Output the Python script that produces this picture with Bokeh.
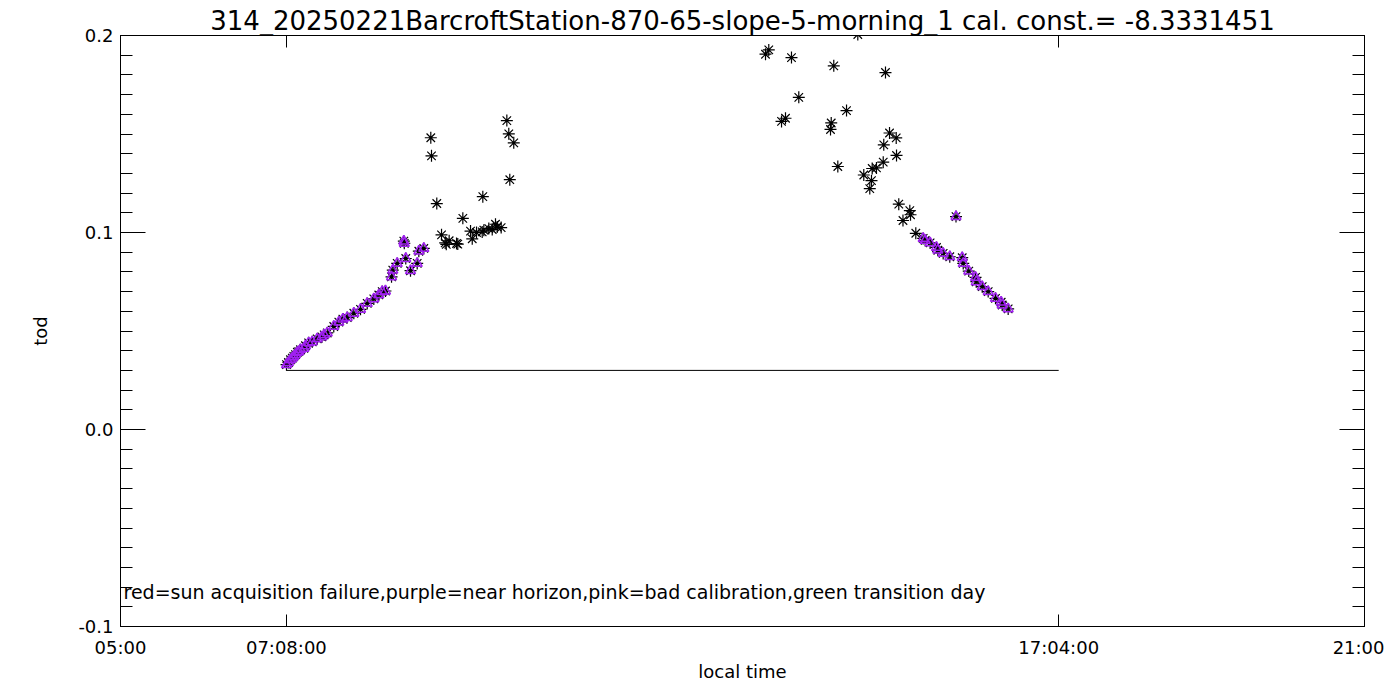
from bokeh.plotting import figure
from bokeh.models import Range1d, LinearAxis, FixedTicker, Label, ColumnDataSource
from bokeh.embed import file_html
from bokeh.resources import INLINE

# ---------------- data ----------------
title_text = "314_20250221BarcroftStation-870-65-slope-5-morning_1 cal. const.= -8.3331451"
note_text = "red=sun acquisition failure,purple=near horizon,pink=bad calibration,green transition day"
x_title = "local time"
y_title = "tod"

x_tick_labels = ["05:00", "07:08:00", "17:04:00", "21:00"]
y_tick_values = [-0.1, 0.0, 0.1, 0.2]
y_tick_labels = ["-0.1", "0.0", "0.1", "0.2"]

# local time (decimal hours) and tod; near_horizon = 1 -> purple
times = [
    7.135, 7.160, 7.186, 7.210, 7.229, 7.251, 7.275, 7.293, 7.315, 7.358,
    7.379, 7.420, 7.466, 7.530, 7.590, 7.620, 7.659, 7.743, 7.808, 7.860,
    7.916, 8.001, 8.087, 8.173, 8.258, 8.322, 8.366, 8.408, 8.486, 8.502,
    8.559, 8.644, 8.650, 8.669, 8.730, 8.816, 8.837, 8.901,
    8.991, 9.000, 9.068, 9.129, 9.176, 9.190, 9.227, 9.322, 9.338, 9.403,
    9.502, 9.524, 9.579, 9.652, 9.660, 9.673, 9.737, 9.781, 9.823, 9.845,
    9.896, 9.969, 9.994, 10.007, 10.058,
    13.296, 13.338, 13.502, 13.553, 13.630, 13.724, 14.132, 14.141, 14.174, 14.226,
    14.338, 14.483, 14.560, 14.637, 14.659, 14.668, 14.723, 14.810, 14.817, 14.839,
    14.891, 14.977, 14.981, 15.010, 15.064, 15.152, 15.161, 15.229,
    15.324, 15.350, 15.413, 15.495, 15.512, 15.581, 15.666, 15.746, 15.826, 15.839,
    15.910, 15.997, 16.006, 16.083, 16.160, 16.254, 16.327, 16.340, 16.417,
]
tods = [
    0.0329, 0.0340, 0.0354, 0.0362, 0.0371, 0.0380, 0.0392, 0.0395, 0.0405, 0.0412,
    0.0425, 0.0440, 0.0445, 0.0460, 0.0470, 0.0480, 0.0490, 0.0523, 0.0545, 0.0560,
    0.0568, 0.0590, 0.0610, 0.0640, 0.0663, 0.0683, 0.0700, 0.0703, 0.0775, 0.0809,
    0.0843, 0.0956, 0.0945, 0.0868, 0.0806, 0.0843, 0.0905, 0.0919,
    0.1481, 0.1389, 0.1147, 0.0988, 0.0947, 0.0940, 0.0958, 0.0944, 0.0941, 0.1072,
    0.1007, 0.0968, 0.1000, 0.1003, 0.1182, 0.1012, 0.1020, 0.1015, 0.1042, 0.1028,
    0.1025, 0.1568, 0.1501, 0.1268, 0.1455,
    0.1905, 0.1927, 0.1564, 0.1580, 0.1888, 0.1686, 0.1523, 0.1556, 0.1846, 0.1335,
    0.1619, 0.2005, 0.1292, 0.1223, 0.1263, 0.1325, 0.1328, 0.1357, 0.1445, 0.1812,
    0.1505, 0.1480, 0.1391, 0.1144, 0.1061, 0.1111, 0.1090, 0.0996,
    0.0970, 0.0960, 0.0947, 0.0924, 0.0910, 0.0894, 0.0877, 0.1081, 0.0872, 0.0843,
    0.0804, 0.0772, 0.0750, 0.0725, 0.0700, 0.0666, 0.0646, 0.0632, 0.0612,
]
near_horizon = [1] * 38 + [0] * 25 + [0] * 28 + [1] * 19

threshold_times = ["07:08:00", "17:04:00"]
threshold_values = [0.03, 0.03]

# ---------------- helpers ----------------
def to_hours(s):
    parts = [int(v) for v in s.split(":")]
    while len(parts) < 3:
        parts.append(0)
    return parts[0] + parts[1] / 60 + parts[2] / 3600

x_tick_values = [to_hours(s) for s in x_tick_labels]
purple = "#A020F0"
font = "DejaVu Sans"

src_all = ColumnDataSource(dict(x=times, y=tods))
src_hz = ColumnDataSource(dict(
    x=[t for t, f in zip(times, near_horizon) if f],
    y=[v for v, f in zip(tods, near_horizon) if f],
))

p = figure(
    width=1384, height=684,
    x_range=Range1d(x_tick_values[0], x_tick_values[-1]),
    y_range=Range1d(-0.1, 0.2),
    output_backend="svg", toolbar_location=None,
    x_axis_location=None, y_axis_location=None,
    min_border_left=120, min_border_right=20,
    min_border_top=35, min_border_bottom=57,
)
p.grid.visible = False
p.outline_line_color = "black"
p.outline_line_width = 1
p.background_fill_color = "white"
p.border_fill_color = "white"

p.title.text = title_text
p.title.align = "center"
p.title.text_font = font
p.title.text_font_size = "26px"
p.title.text_font_style = "normal"
p.title.text_color = "black"
p.title.standoff = 0
p.title.offset = 0

y_minor = [round(-0.1 + 0.01 * i, 3) for i in range(31)]
x_over = {v: l for v, l in zip(x_tick_values, x_tick_labels)}
y_over = {v: l for v, l in zip(y_tick_values, y_tick_labels)}

def style(ax, ticklen, minorlen, labels):
    ax.axis_line_color = "black"
    ax.major_tick_line_color = "black"
    ax.minor_tick_line_color = "black"
    ax.major_tick_in = ticklen
    ax.major_tick_out = 0
    ax.minor_tick_in = minorlen
    ax.minor_tick_out = 0
    ax.major_label_text_font = font
    if labels:
        ax.major_label_text_font_size = "18px"
        ax.major_label_text_color = "black"
    else:
        ax.major_label_text_font_size = "0px"
        ax.major_label_text_color = None
        ax.major_label_standoff = 0
    ax.axis_label_text_font = font
    ax.axis_label_text_font_size = "18px"
    ax.axis_label_text_font_style = "normal"
    ax.axis_label_text_color = "black"

bottom = LinearAxis(ticker=FixedTicker(ticks=x_tick_values, minor_ticks=[]),
                    major_label_overrides=x_over, axis_label=x_title)
style(bottom, 12, 0, True)
bottom.major_label_standoff = 10
bottom.axis_label_standoff = 0
top = LinearAxis(ticker=FixedTicker(ticks=x_tick_values, minor_ticks=[]),
                 major_label_overrides=x_over)
style(top, 12, 0, False)
left = LinearAxis(ticker=FixedTicker(ticks=y_tick_values, minor_ticks=y_minor),
                  major_label_overrides=y_over, axis_label=y_title)
style(left, 25, 12, True)
left.major_label_standoff = 7
left.axis_label_standoff = 24
right = LinearAxis(ticker=FixedTicker(ticks=y_tick_values, minor_ticks=y_minor),
                   major_label_overrides=y_over)
style(right, 25, 12, False)

p.add_layout(bottom, "below")
p.add_layout(top, "above")
p.add_layout(left, "left")
p.add_layout(right, "right")

p.line([to_hours(s) for s in threshold_times], threshold_values,
       line_color="black", line_width=1)
p.scatter("x", "y", source=src_all, marker="asterisk", size=12,
          line_color="black", line_width=1.2)
p.scatter("x", "y", source=src_hz, marker="triangle", size=10,
          fill_color=None, line_color=purple, line_width=1.5)

# note text: starts at the frame's left edge (annotations are clipped to the frame)
p.add_layout(Label(x=x_tick_values[0], y=-0.0824, x_offset=3, text=note_text,
                   text_align="left", text_baseline="middle",
                   text_font=font, text_font_size="19px", text_color="black"))

open("out.html", "w").write(file_html(p, INLINE))
